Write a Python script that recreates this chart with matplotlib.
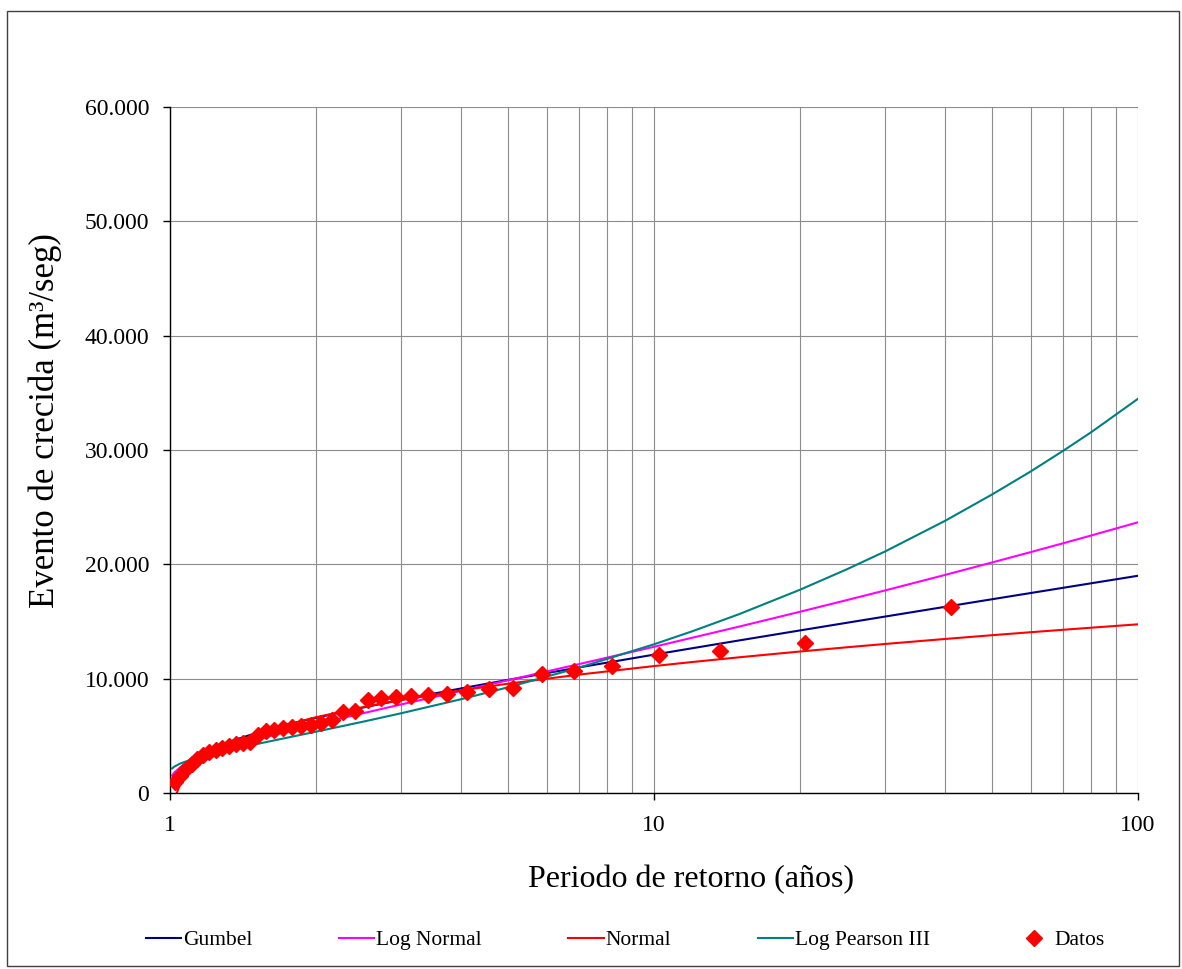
#!/usr/bin/env python3
"""Curvas de frecuencia de crecidas: ajustes teóricos y datos observados."""
import matplotlib

matplotlib.use("Agg")
import matplotlib.pyplot as plt
from matplotlib.patches import Rectangle
from matplotlib.ticker import FuncFormatter, LogLocator, NullFormatter


# Periodos de retorno en los que se evalúan las distribuciones ajustadas
T_CURVA = [1.01, 1.02, 1.05, 1.1, 1.2, 1.3, 1.5, 1.75, 2, 2.5, 3, 4, 5, 7,
           10, 12, 15, 20, 25, 30, 40, 50, 60, 70, 80, 100]

GUMBEL = [1005, 1475, 2225, 2926, 3782, 4370, 5218, 5981, 6570, 7466, 8144,
          9152, 9898, 10984, 12101, 12663, 13345, 14215, 14885, 15430, 16287,
          16950, 17490, 17946, 18341, 19000]
LOG_NORMAL = [1518, 1778, 2243, 2730, 3393, 3888, 4654, 5398, 6003, 6969, 7741,
              8935, 9866, 11273, 12787, 13582, 14555, 15845, 16866, 17713, 19080,
              20168, 21067, 21839, 22520, 23676]
NORMAL = [-1528, -591, 787, 1952, 3238, 4046, 5113, 5991, 6620, 7505, 8127,
          8977, 9564, 10355, 11102, 11456, 11869, 12373, 12743, 13033, 13474,
          13803, 14062, 14275, 14457, 14754]
LOG_PEARSON = [2149, 2299, 2580, 2887, 3331, 3681, 4253, 4847, 5357, 6228, 6970,
               8208, 9252, 10965, 13006, 14147, 15646, 17767, 19556, 21119, 23820,
               26122, 28119, 29923, 31550, 34480]

# Crecidas observadas con su periodo de retorno empírico
T_DATOS = [41.0, 20.5, 13.67, 10.25, 8.2, 6.833, 5.857, 5.125, 4.556, 4.1,
           3.727, 3.417, 3.154, 2.929, 2.733, 2.563, 2.412, 2.278, 2.158, 2.05,
           1.952, 1.864, 1.783, 1.708, 1.64, 1.577, 1.519, 1.464, 1.414, 1.367,
           1.323, 1.281, 1.242, 1.206, 1.171, 1.139, 1.108, 1.079, 1.051, 1.025]
Q_DATOS = [16300, 13150, 12420, 12070, 11130, 10700, 10410, 9220, 9070, 8800,
           8650, 8550, 8450, 8400, 8300, 8100, 7150, 7100, 6400, 6150,
           5950, 5900, 5800, 5700, 5550, 5450, 5100, 4500, 4400, 4300,
           4150, 3950, 3750, 3550, 3300, 2950, 2550, 2100, 1500, 1000]

Y_TICKS = [0, 10000, 20000, 30000, 40000, 50000, 60000]


def miles(v, pos=None):
    return f"{int(round(v)):,}".replace(",", ".")


def main():
    plt.rcParams.update({
        "font.family": ["Liberation Serif", "DejaVu Serif"],
        "font.size": 16,
    })

    W, H = 1182, 969
    fig = plt.figure(figsize=(W / 100, H / 100), dpi=100)
    ax = fig.add_axes([170 / W, 1 - 793 / H, (1138 - 170) / W, (793 - 107) / H])

    ax.plot(T_CURVA, GUMBEL, color="#000080", lw=1.5, label="Gumbel")
    ax.plot(T_CURVA, LOG_NORMAL, color="#FF00FF", lw=1.5, label="Log Normal")
    ax.plot(T_CURVA, NORMAL, color="#FF0000", lw=1.5, label="Normal")
    ax.plot(T_CURVA, LOG_PEARSON, color="#008080", lw=1.5, label="Log Pearson III")
    ax.plot(T_DATOS, Q_DATOS, ls="none", marker="D", ms=8, color="#FF0000",
            label="Datos", zorder=5)

    ax.set_xscale("log")
    ax.set_xlim(1, 100)
    ax.set_ylim(0, 60000)
    ax.set_yticks(Y_TICKS)
    ax.yaxis.set_major_formatter(FuncFormatter(miles))
    ax.xaxis.set_major_locator(LogLocator(base=10, numticks=10))
    ax.xaxis.set_major_formatter(FuncFormatter(lambda v, p: f"{v:g}"))
    ax.xaxis.set_minor_locator(LogLocator(base=10, subs=range(2, 10), numticks=20))
    ax.xaxis.set_minor_formatter(NullFormatter())

    ax.grid(True, which="both", axis="x", color="#8c8c8c", lw=0.8)
    ax.grid(True, which="major", axis="y", color="#8c8c8c", lw=0.8)
    ax.set_axisbelow(True)
    ax.spines["top"].set_visible(False)
    ax.spines["right"].set_visible(False)
    ax.spines["left"].set_linewidth(1.0)
    ax.spines["bottom"].set_linewidth(1.0)
    ax.tick_params(axis="both", which="major", direction="out", length=5,
                   width=1.0, labelsize=17)
    ax.tick_params(axis="y", pad=10)
    ax.tick_params(axis="x", pad=11)
    ax.tick_params(axis="x", which="minor", length=0)

    fig.text(45 / W, 1 - 421 / H, "Evento de crecida (m³/seg)", rotation=90,
             ha="center", va="center", fontsize=25)
    fig.text(691 / W, 1 - 880 / H, "Periodo de retorno (años)",
             ha="center", va="center", fontsize=23)

    fig.legend(loc="center", bbox_to_anchor=(625 / W, 1 - 940 / H), ncol=5,
               frameon=False, fontsize=15.5, handlelength=1.65, handletextpad=0.1,
               columnspacing=4.0)

    fig.patches.append(Rectangle((7 / W, 1 - 966 / H), (1179 - 7) / W, (966 - 11) / H,
                                 transform=fig.transFigure, fill=False,
                                 edgecolor="#404040", lw=1.0))

    fig.savefig("out.png", dpi=100)
    plt.close(fig)


if __name__ == "__main__":
    main()
